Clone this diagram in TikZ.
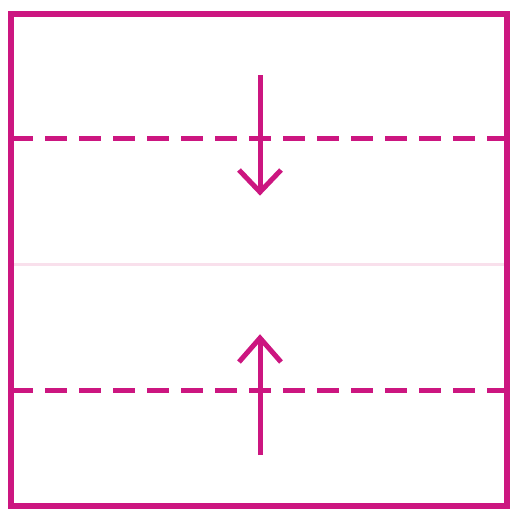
\documentclass[tikz,border=0pt]{standalone}
\begin{document}
\begin{tikzpicture}[x=1pt,y=-1pt,
  mag/.style={draw=magc},
  foldline/.style={mag,line width=5pt,dash pattern=on 22pt off 12pt},
  arrowline/.style={mag,line width=5pt,line cap=butt,line join=miter}]
\definecolor{magc}{RGB}{204,22,128}
\definecolor{faint}{RGB}{249,224,236}
\useasboundingbox (0,0) rectangle (511,509);
\fill[white] (0,0) rectangle (511,509);
% faint centre line
\draw[faint,line width=3pt] (14,264) -- (504,264);
% dashed fold lines
\draw[foldline] (11,138) -- (506,138);
\draw[foldline] (11,390) -- (506,390);
% outer square
\draw[mag,line width=6.5pt] (11,14) rectangle (507,506);
% down arrow
\draw[arrowline] (260,75) -- (260,192);
\draw[arrowline] (239,170) -- (260,192) -- (281,170);
% up arrow
\draw[arrowline] (260,455) -- (260,338);
\draw[arrowline] (239,362) -- (260,338) -- (281,362);
\end{tikzpicture}
\end{document}
